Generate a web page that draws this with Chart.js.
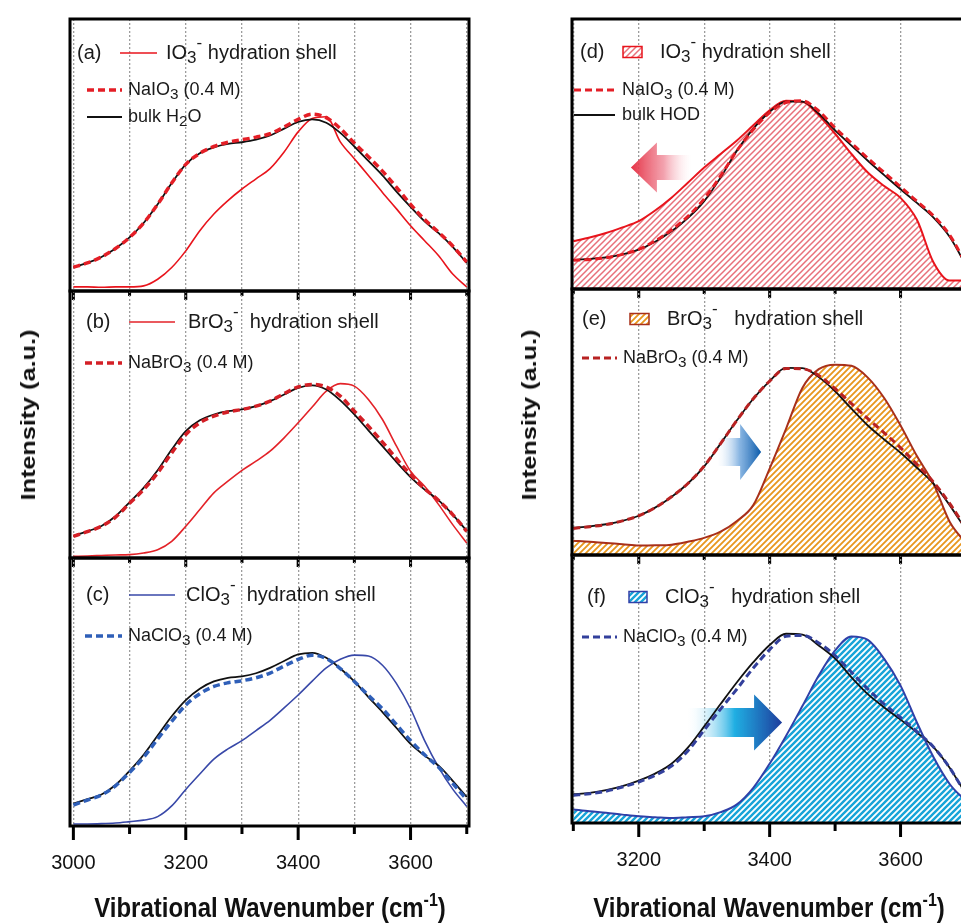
<!DOCTYPE html>
<html>
<head>
<meta charset="utf-8">
<script src="https://cdn.jsdelivr.net/npm/chart.js@4.4.1/dist/chart.umd.min.js"></script>
<style>
  html, body { margin: 0; padding: 0; background: #fff; }
  body { width: 961px; height: 924px; overflow: hidden; position: relative;
         font-family: "Liberation Sans", Arial, sans-serif; color: #111; }
  canvas { position: absolute; }
  .ytitle { position: absolute; font-weight: bold; font-size: 21px; white-space: nowrap;
            transform: translate(-50%, -50%) rotate(-90deg) scaleX(1.2); }
  .xtitle { position: absolute; font-weight: bold; font-size: 24px; white-space: nowrap;
            transform: translate(-50%, -50%) scaleY(1.17); }
  .xtitle sup { font-size: 16px; }
</style>
</head>
<body>
<canvas id="pa"></canvas>
<canvas id="pb"></canvas>
<canvas id="pc"></canvas>
<canvas id="pd"></canvas>
<canvas id="pe"></canvas>
<canvas id="pf"></canvas>
<div class="ytitle" style="left:28px;top:415px">Intensity (a.u.)</div>
<div class="ytitle" style="left:529px;top:415px">Intensity (a.u.)</div>
<div class="xtitle" style="left:270px;top:907px">Vibrational Wavenumber (cm<sup>-1</sup>)</div>
<div class="xtitle" style="left:769px;top:907px">Vibrational Wavenumber (cm<sup>-1</sup>)</div>
<script>
// wavenumber grids (cm-1)
const wnLeft = [3000, 3025, 3050, 3075, 3100, 3125, 3150, 3175, 3200, 3225, 3250, 3275, 3300, 3325,
  3350, 3375, 3400, 3425, 3450, 3475, 3500, 3525, 3550, 3575, 3600, 3625, 3650, 3675, 3700];
const wnRight = [3100, 3125, 3150, 3175, 3200, 3225, 3250, 3275, 3300, 3325, 3350, 3375, 3400,
  3425, 3450, 3475, 3500, 3525, 3550, 3575, 3600, 3625, 3650, 3675, 3700];

// tick positions and the ones that carry a label
const ticksLeft = [3000, 3100, 3200, 3300, 3400, 3500, 3600, 3700];
const ticksRight = [3100, 3200, 3300, 3400, 3500, 3600, 3700];
const tickLabelsLeft = [3000, 3200, 3400, 3600];
const tickLabelsRight = [3200, 3400, 3600];

// H2O spectra
const bulkA = [.14, .165, .20, .25, .315, .40, .51, .635, .745, .81, .845, .865, .875, .89, .915, .955,
  .995, 1.01, .99, .93, .85, .765, .68, .585, .495, .41, .34, .26, .165];
const naio3A = [.14, .165, .20, .25, .315, .40, .51, .635, .745, .81, .85, .875, .89, .905, .925, .965,
  1.01, 1.04, 1.02, .955, .87, .79, .705, .61, .51, .42, .345, .265, .17];
const io3ShellA = [.024, .024, .022, .024, .024, .03, .069, .138, .236, .355, .453, .532, .60, .66, .72,
  .818, .936, 1.015, 1.025, .877, .778, .68, .58, .483, .384, .296, .207, .10, .024];

const bulkB = [.132, .16, .192, .25, .334, .42, .526, .65, .76, .825, .86, .88, .89, .91, .94, .98,
  1.02, 1.035, 1.01, .945, .86, .765, .67, .575, .485, .41, .345, .26, .162];
const nabro3B = [.13, .158, .19, .245, .328, .41, .51, .63, .74, .81, .85, .875, .89, .91, .94, .985,
  1.025, 1.04, 1.025, .97, .88, .79, .695, .595, .50, .415, .345, .26, .16];
const bro3ShellB = [.01, .012, .015, .018, .02, .03, .05, .10, .19, .29, .39, .46, .525, .58, .64, .72,
  .81, .905, 1.0, 1.045, 1.03, .95, .83, .67, .52, .43, .32, .20, .09];

const bulkC = [.133, .16, .188, .245, .329, .425, .54, .655, .752, .82, .863, .885, .893, .912, .944,
  .985, 1.024, 1.034, 1.004, .94, .863, .77, .68, .585, .49, .42, .36, .27, .173];
const naclo3C = [.125, .155, .185, .24, .32, .41, .52, .625, .722, .79, .833, .855, .867, .885, .913,
  .955, .994, 1.02, 1.0, .94, .863, .78, .70, .605, .51, .425, .35, .255, .157];
const clo3ShellC = [.012, .012, .014, .018, .026, .035, .056, .12, .218, .31, .399, .46, .51, .57, .631,
  .705, .782, .865, .944, .995, 1.02, 1.015, .96, .85, .70, .51, .35, .22, .117];

// HOD spectra
const bulkD = [.173, .178, .187, .205, .233, .28, .342, .42, .521, .66, .82, .95, 1.049, 1.11, 1.11,
  1.04, .94, .85, .76, .675, .591, .51, .425, .31, .14];
const naio3D = [.17, .175, .185, .205, .235, .285, .35, .43, .535, .67, .82, .945, 1.045, 1.105, 1.115,
  1.055, .955, .865, .775, .69, .605, .52, .435, .32, .15];
const io3ShellD = [.283, .305, .332, .365, .402, .465, .541, .63, .72, .80, .88, .97, 1.059, 1.115, 1.11,
  1.03, .92, .80, .69, .61, .54, .41, .16, .05, .05];

const bulkE = [.164, .172, .185, .205, .236, .285, .349, .43, .533, .67, .81, .94, 1.046, 1.125, 1.124,
  1.07, .985, .88, .779, .695, .615, .525, .431, .30, .15];
const nabro3E = [.16, .17, .183, .205, .236, .285, .35, .43, .535, .67, .81, .94, 1.046, 1.122, 1.12,
  1.08, 1.0, .91, .82, .735, .645, .545, .44, .31, .16];
const bro3ShellE = [.086, .08, .072, .065, .057, .058, .062, .08, .103, .14, .205, .30, .52, .759, 1.005,
  1.118, 1.145, 1.138, 1.067, .944, .779, .595, .431, .20, .07];

const bulkF = [.172, .18, .196, .22, .253, .295, .354, .45, .577, .71, .84, .96, 1.063, 1.13, 1.125,
  1.06, .982, .87, .769, .69, .617, .54, .455, .33, .17];
const naclo3F = [.165, .175, .19, .215, .245, .285, .34, .43, .555, .68, .80, .925, 1.035, 1.115, 1.12,
  1.075, 1.0, .90, .80, .71, .63, .545, .455, .33, .17];
const clo3ShellF = [.081, .07, .061, .05, .04, .035, .03, .035, .04, .065, .111, .21, .354, .52, .698,
  .88, 1.03, 1.113, 1.093, .98, .82, .60, .395, .233, .13];

// legend texts: _x = subscript, ^x = superscript
const labelsA = ['IO_3^- hydration shell', 'NaIO_3 (0.4 M)', 'bulk H_2O'];
const labelsB = ['BrO_3^-  hydration shell', 'NaBrO_3 (0.4 M)'];
const labelsC = ['ClO_3^-  hydration shell', 'NaClO_3 (0.4 M)'];
const labelsD = ['IO_3^- hydration shell', 'NaIO_3 (0.4 M)', 'bulk HOD'];
const labelsE = ['BrO_3^-   hydration shell', 'NaBrO_3 (0.4 M)'];
const labelsF = ['ClO_3^-   hydration shell', 'NaClO_3 (0.4 M)'];

const FONT = '"Liberation Sans", Arial, sans-serif';

function hatch(color, w) {
  const s = 6;
  const c = document.createElement('canvas');
  c.width = c.height = s;
  const g = c.getContext('2d');
  g.fillStyle = '#fff';
  g.fillRect(0, 0, s, s);
  g.strokeStyle = color;
  g.lineWidth = w;
  g.beginPath();
  g.moveTo(-1, s + 1); g.lineTo(s + 1, -1);
  g.moveTo(-s / 2 - 1, s / 2 + 1); g.lineTo(s / 2 + 1, -s / 2 - 1);
  g.moveTo(s / 2 - 1, s * 1.5 + 1); g.lineTo(s * 1.5 + 1, s / 2 - 1);
  g.stroke();
  return g.createPattern(c, 'repeat');
}

const black = { borderColor: '#111', borderWidth: 1.8 };
const dashed = (col, w) => ({ borderColor: col, borderWidth: w, borderDash: [7, 4] });

function series(xs, ys, st) {
  return Object.assign({
    data: ys.map((v, i) => ({ x: xs[i], y: v })),
    pointRadius: 0,
    cubicInterpolationMode: 'monotone',
    fill: false
  }, st);
}

function richText(ctx, str, x, y, size) {
  const parts = str.match(/_.|\^.|[^_^]+/g);
  parts.forEach(p => {
    let t = p, fs = size, dy = 0;
    if (p[0] === '_') { t = p[1]; fs = size * 0.85; dy = size * 0.28; }
    else if (p[0] === '^') { t = p[1]; fs = size * 0.85; dy = -size * 0.5; }
    ctx.font = fs + 'px ' + FONT;
    ctx.fillText(t, x, y + dy);
    x += ctx.measureText(t).width;
  });
}

function drawArrow(ctx, xs, ys, ar) {
  const x0 = xs.getPixelForValue(ar.from);
  const x1 = xs.getPixelForValue(ar.to);
  const yc = ys.getPixelForValue(ar.at);
  const dir = Math.sign(x1 - x0);
  const hb = x1 - dir * ar.head;
  const grad = ctx.createLinearGradient(x0, 0, x1, 0);
  ar.stops.forEach(s => grad.addColorStop(s[0], s[1]));
  ctx.fillStyle = grad;
  ctx.beginPath();
  ctx.moveTo(x0, yc - ar.body);
  ctx.lineTo(hb, yc - ar.body);
  ctx.lineTo(hb, yc - ar.half);
  ctx.lineTo(x1, yc);
  ctx.lineTo(hb, yc + ar.half);
  ctx.lineTo(hb, yc + ar.body);
  ctx.lineTo(x0, yc + ar.body);
  ctx.closePath();
  ctx.fill();
}

const decor = {
  id: 'decor',
  beforeDatasetsDraw(chart, args, o) {
    if (o.arrow) drawArrow(chart.ctx, chart.scales.x, chart.scales.y, o.arrow);
  },
  afterDatasetsDraw(chart, args, o) {
    const ctx = chart.ctx;
    const a = chart.chartArea;
    const x = chart.scales.x;
    ctx.save();
    // tick marks below the frame, labelled ones longer
    ctx.strokeStyle = '#000';
    ctx.lineWidth = 3;
    x.ticks.forEach(t => {
      const px = x.getPixelForValue(t.value);
      const len = o.majors.includes(t.value) ? o.tickLen[0] : o.tickLen[1];
      ctx.beginPath();
      ctx.moveTo(px, a.bottom);
      ctx.lineTo(px, a.bottom + len);
      ctx.stroke();
    });
    ctx.strokeRect(a.left, a.top, a.right - a.left, a.bottom - a.top);

    // legend
    const lg = o.legend;
    ctx.fillStyle = '#1a1a1a';
    ctx.textBaseline = 'middle';
    ctx.font = '20px ' + FONT;
    ctx.fillText(lg.tag, a.left + lg.tagAt[0], a.top + lg.tagAt[1]);
    lg.rows.forEach(r => {
      const ds = chart.data.datasets[r.ds];
      const y = a.top + r.y;
      if (r.box) {
        ctx.fillStyle = ds.backgroundColor;
        ctx.fillRect(a.left + r.x1, y - 5.5, r.x2 - r.x1, 11);
        ctx.strokeStyle = ds.borderColor;
        ctx.lineWidth = 1.5;
        ctx.strokeRect(a.left + r.x1, y - 5.5, r.x2 - r.x1, 11);
      } else {
        ctx.strokeStyle = ds.borderColor;
        ctx.lineWidth = ds.borderWidth;
        ctx.setLineDash(ds.borderDash || []);
        ctx.beginPath();
        ctx.moveTo(a.left + r.x1, y);
        ctx.lineTo(a.left + r.x2, y);
        ctx.stroke();
        ctx.setLineDash([]);
      }
      ctx.fillStyle = '#1a1a1a';
      richText(ctx, r.text, a.left + r.tx, y, r.size);
    });
    ctx.restore();
  }
};

function makePanel(p) {
  // side padding wide enough for the edge tick label plus its padding
  const padX = 60, padTop = 4;
  const axisH = p.bottom ? 70 : 18;
  const [l, t, r, b] = p.frame;
  const cv = document.getElementById(p.id);
  cv.width = (r - l) + 2 * padX;
  cv.height = padTop + (b - t) + axisH;
  cv.style.left = (l - padX) + 'px';
  cv.style.top = (t - padTop) + 'px';

  new Chart(cv, {
    type: 'line',
    data: { datasets: p.datasets },
    options: {
      responsive: false,
      animation: false,
      events: [],
      layout: { padding: { left: padX, right: padX, top: padTop, bottom: 0 } },
      plugins: {
        legend: { display: false },
        tooltip: { enabled: false },
        decor: {
          majors: p.majors,
          tickLen: p.bottom ? [14, 8] : [9, 5],
          legend: p.legend,
          arrow: p.arrow
        }
      },
      scales: {
        x: {
          type: 'linear',
          min: p.xMin,
          max: p.xMax,
          afterBuildTicks: s => { s.ticks = p.ticks.map(v => ({ value: v })); },
          afterFit: s => { s.height = axisH; },
          ticks: {
            display: !!p.bottom,
            maxRotation: 0,
            autoSkip: false,
            padding: 25,
            color: '#111',
            font: { size: 20, family: FONT },
            callback: v => p.majors.includes(v) ? String(v) : ''
          },
          grid: { color: '#9d9d9d', lineWidth: 1.3, drawTicks: false },
          border: { display: false, dash: [2, 2] }
        },
        y: { display: false, min: 0, max: 1.6 }
      }
    },
    plugins: [decor]
  });
}

const red = '#e8141c';

makePanel({
  id: 'pa', frame: [70, 19, 469, 291], xMin: 2994, xMax: 3704, ticks: ticksLeft, majors: tickLabelsLeft,
  datasets: [
    series(wnLeft, naio3A, dashed('#e41e26', 3.5)),
    series(wnLeft, bulkA, black),
    series(wnLeft, io3ShellA, { borderColor: red, borderWidth: 1.6 })
  ],
  legend: { tag: '(a)', tagAt: [7, 34], rows: [
    { ds: 2, x1: 50, x2: 87, y: 34, tx: 96, size: 20, text: labelsA[0] },
    { ds: 0, x1: 17, x2: 52, y: 71, tx: 58, size: 18, text: labelsA[1] },
    { ds: 1, x1: 17, x2: 52, y: 98, tx: 58, size: 18, text: labelsA[2] }
  ] }
});

makePanel({
  id: 'pb', frame: [70, 291, 469, 558], xMin: 2994, xMax: 3704, ticks: ticksLeft, majors: tickLabelsLeft,
  datasets: [
    series(wnLeft, nabro3B, dashed('#d41f26', 3.5)),
    series(wnLeft, bulkB, black),
    series(wnLeft, bro3ShellB, { borderColor: '#e32228', borderWidth: 1.6 })
  ],
  legend: { tag: '(b)', tagAt: [16, 31], rows: [
    { ds: 2, x1: 59, x2: 105, y: 31, tx: 118, size: 20, text: labelsB[0] },
    { ds: 0, x1: 15, x2: 52, y: 72, tx: 58, size: 18, text: labelsB[1] }
  ] }
});

makePanel({
  id: 'pc', frame: [70, 558, 469, 826], xMin: 2994, xMax: 3704, ticks: ticksLeft, majors: tickLabelsLeft,
  bottom: true,
  datasets: [
    series(wnLeft, naclo3C, dashed('#2f5fb8', 3.5)),
    series(wnLeft, bulkC, black),
    series(wnLeft, clo3ShellC, { borderColor: '#3848a8', borderWidth: 1.6 })
  ],
  legend: { tag: '(c)', tagAt: [16, 37], rows: [
    { ds: 2, x1: 59, x2: 105, y: 37, tx: 116, size: 20, text: labelsC[0] },
    { ds: 0, x1: 15, x2: 52, y: 78, tx: 58, size: 18, text: labelsC[1] }
  ] }
});

makePanel({
  id: 'pd', frame: [572, 19, 966, 289], xMin: 3098, xMax: 3700, ticks: ticksRight, majors: tickLabelsRight,
  datasets: [
    series(wnRight, naio3D, dashed('#e41e26', 3)),
    series(wnRight, bulkD, black),
    series(wnRight, io3ShellD, { borderColor: red, borderWidth: 2,
      backgroundColor: hatch('#e8707a', 1.5), fill: 'origin' })
  ],
  arrow: { from: 3280, to: 3188, at: 0.72, head: 26, half: 25, body: 12.5,
    stops: [[0, 'rgba(255,225,230,0)'], [0.45, 'rgba(240,140,155,0.8)'], [1, 'rgba(228,40,60,0.95)']] },
  legend: { tag: '(d)', tagAt: [8, 33], rows: [
    { ds: 2, box: true, x1: 51, x2: 70, y: 33, tx: 88, size: 20, text: labelsD[0] },
    { ds: 0, x1: 2, x2: 43, y: 71, tx: 50, size: 18, text: labelsD[1] },
    { ds: 1, x1: 2, x2: 43, y: 96, tx: 50, size: 18, text: labelsD[2] }
  ] }
});

makePanel({
  id: 'pe', frame: [572, 289, 966, 555], xMin: 3098, xMax: 3700, ticks: ticksRight, majors: tickLabelsRight,
  datasets: [
    series(wnRight, nabro3E, dashed('#b82222', 3)),
    series(wnRight, bulkE, black),
    series(wnRight, bro3ShellE, { borderColor: '#a8301a', borderWidth: 2,
      backgroundColor: hatch('#e8961c', 1.8), fill: 'origin' })
  ],
  arrow: { from: 3320, to: 3387, at: 0.62, head: 21, half: 28, body: 14,
    stops: [[0, 'rgba(220,235,250,0)'], [0.5, 'rgba(110,165,220,0.8)'], [1, 'rgba(10,90,170,1)']] },
  legend: { tag: '(e)', tagAt: [10, 30], rows: [
    { ds: 2, box: true, x1: 58, x2: 77, y: 30, tx: 95, size: 20, text: labelsE[0] },
    { ds: 0, x1: 10, x2: 45, y: 69, tx: 51, size: 18, text: labelsE[1] }
  ] }
});

makePanel({
  id: 'pf', frame: [572, 555, 966, 823], xMin: 3098, xMax: 3700, ticks: ticksRight, majors: tickLabelsRight,
  bottom: true,
  datasets: [
    series(wnRight, naclo3F, dashed('#33409c', 3)),
    series(wnRight, bulkF, black),
    series(wnRight, clo3ShellF, { borderColor: '#3040a8', borderWidth: 2,
      backgroundColor: hatch('#17a4d8', 2.4), fill: 'origin' })
  ],
  arrow: { from: 3274, to: 3419, at: 0.6, head: 28, half: 28, body: 14.5,
    stops: [[0, 'rgba(240,250,255,0)'], [0.5, 'rgba(20,170,225,0.95)'], [1, 'rgba(30,60,156,1)']] },
  legend: { tag: '(f)', tagAt: [15, 42], rows: [
    { ds: 2, box: true, x1: 57, x2: 75, y: 42, tx: 93, size: 20, text: labelsF[0] },
    { ds: 0, x1: 10, x2: 45, y: 82, tx: 51, size: 18, text: labelsF[1] }
  ] }
});
</script>
</body>
</html>
